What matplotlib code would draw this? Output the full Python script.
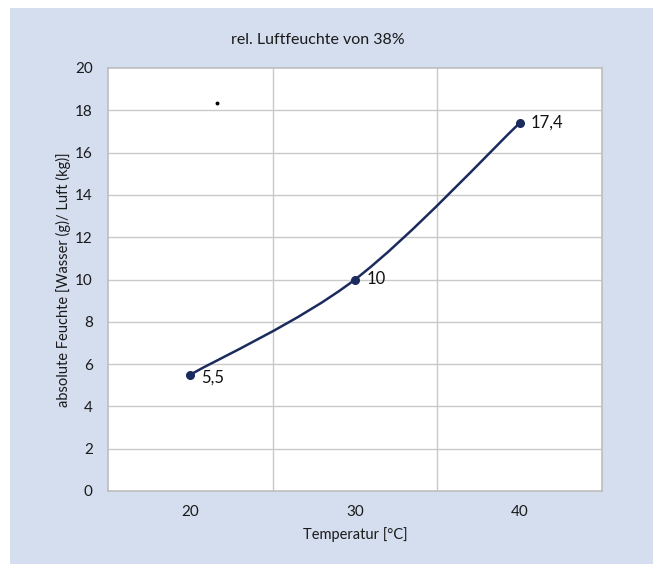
import matplotlib
matplotlib.use("Agg")
import matplotlib.pyplot as plt
from matplotlib.path import Path
from matplotlib.patches import PathPatch, Rectangle
import numpy as np

plt.rcParams["font.family"] = ["Lato", "DejaVu Sans"]

# data
temps = [20, 30, 40]
humidity = [5.5, 10, 17.4]
labels = ["5,5", "10", "17,4"]
y_ticks = [0, 2, 4, 6, 8, 10, 12, 14, 16, 18, 20]
stray_dot = (21.6, 18.35)

navy = "#1c2b5e"
bg_blue = "#d4deef"

fig = plt.figure(figsize=(6.53, 5.64), dpi=100, facecolor="white")
fig.patches.append(Rectangle((10 / 653, 0), 1, 1 - 8 / 564, transform=fig.transFigure,
                             facecolor=bg_blue, edgecolor="none", zorder=-10))

ax = fig.add_axes([108 / 653, 1 - 491 / 564, 494 / 653, 423 / 564])
ax.set_facecolor("white")
ax.set_xlim(15, 45)
ax.set_ylim(0, 20)

# grid like excel: horizontal every 2, vertical between categories
for y in y_ticks[1:-1]:
    ax.axhline(y, color="#c9c9c9", lw=1.0, zorder=1)
for x in [25, 35]:
    ax.axvline(x, color="#c9c9c9", lw=1.0, zorder=1)
for s in ax.spines.values():
    s.set_color("#bdbdbd")
    s.set_linewidth(1.2)

# smooth line (catmull-rom style bezier like excel)
pts = np.array(list(zip(temps, humidity)), dtype=float)
verts = [pts[0]]
codes = [Path.MOVETO]
for i in range(len(pts) - 1):
    p_prev = pts[i - 1] if i > 0 else pts[i]
    p_next = pts[i + 2] if i + 2 < len(pts) else pts[i + 1]
    c1 = pts[i] + (pts[i + 1] - p_prev) / 6
    c2 = pts[i + 1] - (p_next - pts[i]) / 6
    verts += [c1, c2, pts[i + 1]]
    codes += [Path.CURVE4] * 3
ax.add_patch(PathPatch(Path(verts, codes), facecolor="none", edgecolor=navy, lw=1.8, zorder=3))
ax.plot(temps, humidity, "o", color=navy, ms=5.5, zorder=4)

for x, y, t in zip(temps, humidity, labels):
    ax.annotate(t, (x, y), xytext=(8, -2 if t == "5,5" else 0), textcoords="offset points",
                va="center", ha="left", fontsize=12, color="#111111")

ax.plot(*stray_dot, "o", color="black", ms=1.8, zorder=4)

ax.set_xticks(temps)
ax.set_yticks(y_ticks)
ax.tick_params(length=0, labelsize=11, colors="#1a1a1a")
ax.tick_params(axis="x", pad=10)
ax.tick_params(axis="y", pad=11)

ax.set_xlabel("Temperatur [°C]", fontsize=10.5, color="#1a1a1a", labelpad=6)
ax.set_ylabel("absolute Feuchte [Wasser (g)/ Luft (kg)]", fontsize=10.5, color="#1a1a1a", labelpad=3)
fig.text(318 / 653, 1 - 40 / 564, "rel. Luftfeuchte von 38%", ha="center", va="center",
         fontsize=11.5, color="#1a1a1a")

fig.savefig("out.png", dpi=100, facecolor=fig.get_facecolor())
